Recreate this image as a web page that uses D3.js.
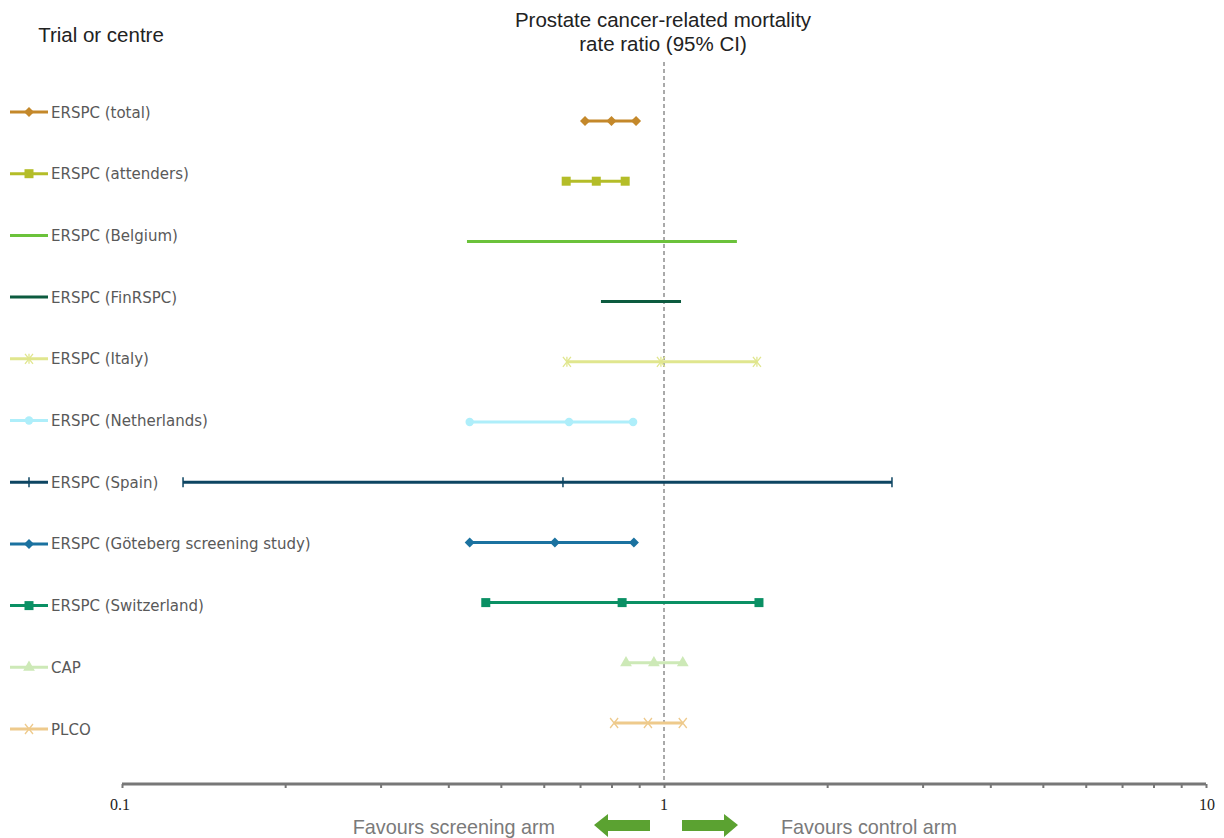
<!DOCTYPE html>
<html>
<head>
<meta charset="utf-8">
<script src="https://cdn.jsdelivr.net/npm/d3@7"></script>
<style>
  body { margin: 0; background: #fff; }
  svg { display: block; }
</style>
</head>
<body>
<svg id="chart"></svg>
<script>
// Data
const studies = ["ERSPC (total)", "ERSPC (attenders)", "ERSPC (Belgium)", "ERSPC (FinRSPC)", "ERSPC (Italy)",
  "ERSPC (Netherlands)", "ERSPC (Spain)", "ERSPC (Göteberg screening study)", "ERSPC (Switzerland)", "CAP", "PLCO"];
const lower = [0.715, 0.66, 0.433, 0.765, 0.662, 0.438, 0.1296, 0.438, 0.469, 0.851, 0.809];
const estimate = [0.80, 0.75, null, null, 0.987, 0.668, 0.651, 0.629, 0.837, 0.958, 0.934];
const upper = [0.888, 0.848, 1.363, 1.075, 1.484, 0.877, 2.634, 0.880, 1.497, 1.083, 1.083];
const colors = ["#c4882a", "#b4bd28", "#6bc23b", "#0c5b3f", "#e0e68e", "#aeeefa", "#0d4562", "#1b72a0", "#0a9064", "#cde9b7", "#eeca8c"];
const markers = ["diamond", "square", "none", "none", "star", "circle", "plus", "diamond", "square", "triangle", "cross"];
const tickLabels = [0.1, 1, 10];

const W = 1224, H = 838;
const svg = d3.select("#chart").attr("width", W).attr("height", H);

const x = d3.scaleLog().domain([0.1, 10]).range([122, 1206]);
const y = d3.scalePoint().domain(studies).range([121, 723]);
const yLeg = d3.scalePoint().domain(studies).range([112, 729]);

function drawMarker(g, type, cx, cy, color) {
  if (type === "none") return;
  if (type === "diamond") {
    g.append("path").attr("d", d3.symbol(d3.symbolDiamond2, 64)())
      .attr("transform", `translate(${cx},${cy})`).attr("fill", color);
  } else if (type === "square") {
    g.append("rect").attr("x", cx - 4.5).attr("y", cy - 4.5).attr("width", 9).attr("height", 9).attr("fill", color);
  } else if (type === "circle") {
    g.append("circle").attr("cx", cx).attr("cy", cy).attr("r", 4.2).attr("fill", color);
  } else if (type === "triangle") {
    g.append("path").attr("d", d3.symbol(d3.symbolTriangle, 60)())
      .attr("transform", `translate(${cx},${cy})`).attr("fill", color);
  } else if (type === "plus") {
    g.append("line").attr("x1", cx).attr("x2", cx).attr("y1", cy - 5).attr("y2", cy + 5)
      .attr("stroke", color).attr("stroke-width", 1.5);
  } else if (type === "cross" || type === "star") {
    g.append("path").attr("d", `M${cx - 4},${cy - 5}L${cx + 4},${cy + 5}M${cx - 4},${cy + 5}L${cx + 4},${cy - 5}`)
      .attr("stroke", color).attr("stroke-width", 1.3).attr("fill", "none");
    if (type === "star") {
      g.append("line").attr("x1", cx).attr("x2", cx).attr("y1", cy - 5).attr("y2", cy + 5)
        .attr("stroke", color).attr("stroke-width", 1.3);
    }
  }
}

// reference line at 1
svg.append("line")
  .attr("x1", x(1)).attr("x2", x(1)).attr("y1", 62).attr("y2", 784)
  .attr("stroke", "#555").attr("stroke-width", 1).attr("stroke-dasharray", "4,3");

// CI lines + legend
studies.forEach((s, i) => {
  const g = svg.append("g");
  const cy = y(s);
  g.append("line")
    .attr("x1", x(lower[i])).attr("x2", x(upper[i]))
    .attr("y1", cy).attr("y2", cy)
    .attr("stroke", colors[i]).attr("stroke-width", 3);
  [lower[i], estimate[i], upper[i]].forEach(v => {
    if (v != null) drawMarker(g, markers[i], x(v), cy, colors[i]);
  });

  const ly = yLeg(s);
  const lg = svg.append("g");
  lg.append("line").attr("x1", 10).attr("x2", 48).attr("y1", ly).attr("y2", ly)
    .attr("stroke", colors[i]).attr("stroke-width", 3);
  drawMarker(lg, markers[i], 29, ly, colors[i]);
  lg.append("text").attr("x", 51).attr("y", ly + 5.5)
    .attr("font-family", "Verdana, 'DejaVu Sans', sans-serif")
    .attr("font-size", 15).attr("fill", "#595959")
    .text(s);
});

// x axis
const axis = svg.append("g").attr("transform", "translate(0,784)");
axis.call(d3.axisBottom(x).ticks(10).tickSize(4).tickFormat(""));
axis.select(".domain").attr("stroke", "#777").attr("stroke-width", 3).attr("d", `M${x(0.1)},0H${x(10)}`);
axis.selectAll(".tick line").attr("stroke", "#777").attr("stroke-width", 2);

svg.append("g").selectAll("text").data(tickLabels).join("text")
  .attr("x", d => x(d)).attr("y", 810)
  .attr("text-anchor", d => d === 10 ? "end" : (d === 0.1 ? "start" : "middle"))
  .attr("dx", d => d === 0.1 ? -12 : (d === 10 ? 9 : 0))
  .attr("font-family", "'Liberation Serif', 'Times New Roman', serif")
  .attr("font-size", 16).attr("fill", "#222")
  .text(d => d);

// titles
const sans = "'Liberation Sans', Arial, sans-serif";
svg.append("text").attr("x", 101).attr("y", 42).attr("text-anchor", "middle")
  .attr("font-family", sans).attr("font-size", 20.5).attr("fill", "#222")
  .text("Trial or centre");
const t = svg.append("text").attr("text-anchor", "middle")
  .attr("font-family", sans).attr("font-size", 20.5).attr("fill", "#222");
t.append("tspan").attr("x", 663).attr("y", 27).text("Prostate cancer-related mortality");
t.append("tspan").attr("x", 663).attr("y", 51).text("rate ratio (95% CI)");

// favours labels and arrows
svg.append("text").attr("x", 555).attr("y", 834).attr("text-anchor", "end")
  .attr("font-family", sans).attr("font-size", 19.8).attr("fill", "#7a7a7a")
  .text("Favours screening arm");
svg.append("text").attr("x", 781).attr("y", 834)
  .attr("font-family", sans).attr("font-size", 19.8).attr("fill", "#7a7a7a")
  .text("Favours control arm");
const green = "#5ba231";
svg.append("path").attr("d", "M594,825 L608,814 L608,820 L650,820 L650,831 L608,831 L608,837 Z").attr("fill", green);
svg.append("path").attr("d", "M738,825 L724,814 L724,820 L682,820 L682,831 L724,831 L724,837 Z").attr("fill", green);
</script>
</body>
</html>
